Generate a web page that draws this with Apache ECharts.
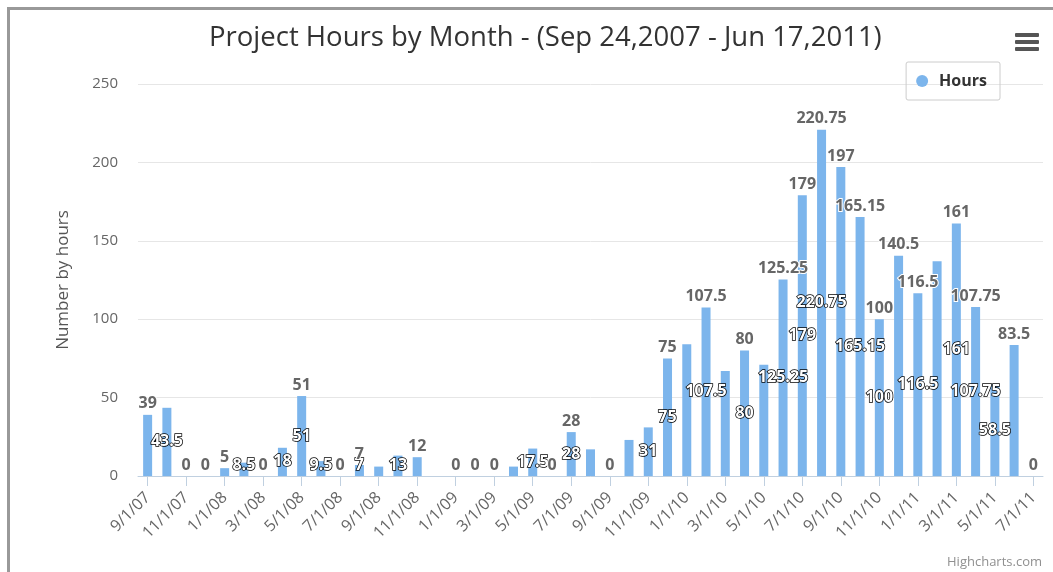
<!DOCTYPE html>
<html>
<head>
<meta charset="utf-8">
<script src="https://cdn.jsdelivr.net/npm/echarts@6/dist/echarts.min.js"></script>
<style>
html,body{margin:0;padding:0;background:#fff;}
#chart{width:1053px;height:572px;}
</style>
</head>
<body>
<div id="chart"></div>
<script>
const months = ['9/1/07','10/1/07','11/1/07','12/1/07','1/1/08','2/1/08','3/1/08','4/1/08','5/1/08','6/1/08','7/1/08','8/1/08','9/1/08','10/1/08','11/1/08','12/1/08','1/1/09','2/1/09','3/1/09','4/1/09','5/1/09','6/1/09','7/1/09','8/1/09','9/1/09','10/1/09','11/1/09','12/1/09','1/1/10','2/1/10','3/1/10','4/1/10','5/1/10','6/1/10','7/1/10','8/1/10','9/1/10','10/1/10','11/1/10','12/1/10','1/1/11','2/1/11','3/1/11','4/1/11','5/1/11','6/1/11','7/1/11'];
const hours = [39,43.5,0,0,5,8.5,0,18,51,9.5,0,7,6,13,12,null,0,0,0,6,17.5,0,28,17,0,23,31,75,84,107.5,67,80,71,125.25,179,220.75,197,165.15,100,140.5,116.5,137,161,107.75,58.5,83.5,0];
const yTicks = [0,50,100,150,200,250];
// which bars show a label above the bar / inside the bar (others hidden by overlap in the original)
const topLabelIdx = [0,2,3,4,6,8,10,11,14,16,17,18,21,22,24,27,29,31,33,34,35,36,37,38,39,40,42,43,45,46];
const insideLabelIdx = [1,5,7,8,9,11,13,20,22,26,27,29,31,33,34,35,37,38,40,42,43,44];

const FONT = '"Open Sans", "DejaVu Sans", sans-serif';
const W = 1053, H = 572;
const gridBottom = 96;
const baseY = H - gridBottom;

const chart = echarts.init(document.getElementById('chart'), null, {renderer: 'canvas'});
const option = {
  animation: false,
  backgroundColor: '#fff',
  textStyle: {fontFamily: FONT},
  title: {
    text: 'Project Hours by Month - (Sep 24,2007 - Jun 17,2011)',
    left: 204,
    top: 19,
    textStyle: {fontFamily: FONT, fontSize: 27.5, fontWeight: 'normal', color: '#333'}
  },
  legend: {
    data: ['Hours'],
    right: 53,
    top: 62,
    orient: 'horizontal',
    icon: 'circle',
    itemWidth: 24,
    itemHeight: 12,
    padding: [11, 13, 11, 10],
    borderColor: '#cccccc',
    borderWidth: 1,
    borderRadius: 2,
    textStyle: {fontFamily: FONT, fontSize: 16, fontWeight: 'bold', color: '#333'}
  },
  grid: {left: 138, right: 10, top: 84, bottom: gridBottom, containLabel: false},
  xAxis: {
    type: 'category',
    data: months,
    boundaryGap: true,
    axisLine: {lineStyle: {color: '#C0D0E0', width: 1}},
    axisTick: {show: true, alignWithLabel: true, interval: 1, length: 10, lineStyle: {color: '#C0D0E0'}},
    axisLabel: {interval: 1, rotate: 45, margin: 19, color: '#666', fontSize: 16, fontFamily: FONT},
    splitLine: {show: false}
  },
  yAxis: {
    type: 'value',
    min: yTicks[0],
    max: yTicks[yTicks.length - 1],
    interval: 50,
    name: 'Number by hours',
    nameLocation: 'middle',
    nameGap: 66,
    nameRotate: 90,
    nameTextStyle: {color: '#555', fontSize: 17, fontFamily: FONT},
    axisLine: {show: false},
    axisTick: {show: false},
    axisLabel: {color: '#666', fontSize: 15, margin: 20, fontFamily: FONT},
    splitLine: {lineStyle: {color: '#e6e6e6', width: 1}}
  },
  series: [
    {
      name: 'Hours',
      type: 'bar',
      data: hours,
      barWidth: 9,
      itemStyle: {color: '#7cb5ec'},
      label: {
        show: true,
        position: 'inside',
        color: '#fff',
        fontWeight: 'bold',
        fontSize: 16,
        fontFamily: FONT,
        textBorderColor: '#000',
        textBorderWidth: 1.5,
        formatter: p => insideLabelIdx.includes(p.dataIndex) && p.value != null ? String(p.value) : ''
      },
      labelLayout: function (p) {
        const r = p.labelRect;
        const over = r.y + r.height - baseY + 2;
        return over > 0 ? {dy: -over} : {};
      },
      z: 2
    },
    {
      name: 'Hours',
      type: 'bar',
      data: hours,
      barWidth: 9,
      barGap: '-100%',
      itemStyle: {color: 'rgba(0,0,0,0)'},
      label: {
        show: true,
        position: 'top',
        distance: 3,
        color: '#666',
        fontWeight: 'bold',
        fontSize: 16,
        fontFamily: FONT,
        textBorderColor: '#fff',
        textBorderWidth: 2,
        formatter: p => topLabelIdx.includes(p.dataIndex) && p.value != null ? String(p.value) : ''
      },
      z: 3
    }
  ],
  graphic: [
    {type: 'rect', shape: {x: 8.5, y: 8.5, width: 1100, height: 700}, style: {fill: 'none', stroke: '#999', lineWidth: 3}, silent: true},
    {type: 'rect', shape: {x: 1015, y: 33, width: 24, height: 4, r: 1}, style: {fill: '#555'}},
    {type: 'rect', shape: {x: 1015, y: 40, width: 24, height: 4, r: 1}, style: {fill: '#555'}},
    {type: 'rect', shape: {x: 1015, y: 47, width: 24, height: 4, r: 1}, style: {fill: '#555'}},
    {type: 'text', right: 11, bottom: 3, style: {text: 'Highcharts.com', fill: '#909090', font: '13px ' + FONT}}
  ]
};
chart.setOption(option);
</script>
</body>
</html>
